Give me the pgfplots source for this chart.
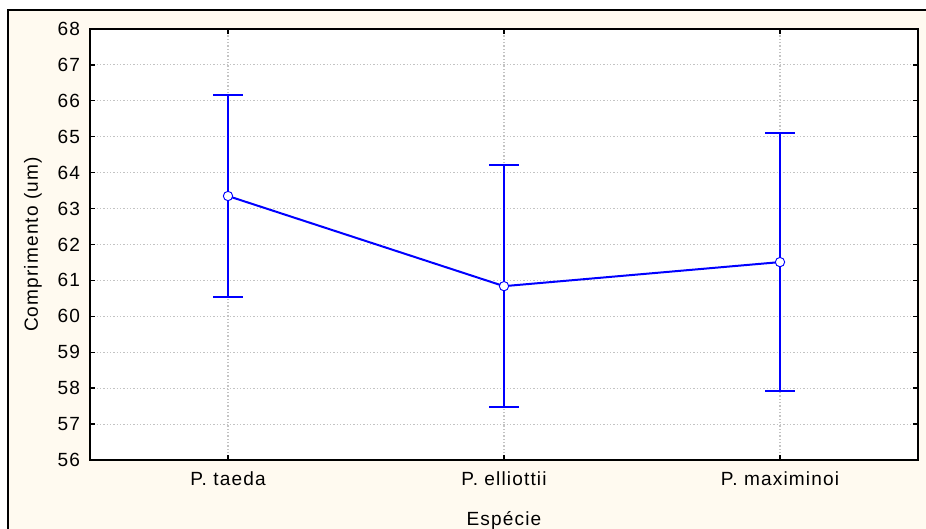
\documentclass[border=0pt]{standalone}
\usepackage{pgfplots}
\pgfplotsset{compat=1.18}
\usepackage{fontspec}
\setmainfont{Liberation Sans}[LetterSpace=6]
\definecolor{cream}{RGB}{255,250,240}
\definecolor{eb}{RGB}{0,0,255}
\definecolor{gridc}{RGB}{195,195,195}
\begin{document}
\begin{tikzpicture}[x=0.75pt,y=0.75pt]
\path[use as bounding box] (0,0) rectangle (926,529);
\begin{scope}
\clip (0,0) rectangle (926,529);
\fill[white] (0,0) rectangle (926,529);
\draw[fill=cream, line width=1.3pt] (8,-10) rectangle (940,519);
\end{scope}
\begin{axis}[
  at={(67.5pt,51.75pt)}, anchor=south west,
  scale only axis, width=621pt, height=323.25pt,
  xmin=-0.5, xmax=2.5, ymin=56, ymax=68,
  xtick={0,1,2}, xticklabels={P. taeda, P. elliottii, P. maximinoi},
  ytick={56,57,...,68},
  tick align=inside,
  major tick length=4pt,
  grid=major,
  grid style={dash pattern=on 1pt off 1.5pt, gridc, line width=0.8pt},
  axis line style={line width=1.4pt},
  tick style={black, line width=1pt},
  axis background/.style={fill=white},
  font=\fontsize{14.3}{16}\selectfont,
  /pgf/number format/assume math mode=true,
  xticklabel style={yshift=-5.5pt},
  yticklabel style={xshift=-4pt},
  xlabel={Espécie},
  ylabel={Comprimento (um)},
  xlabel style={at={(axis description cs:0.5,0)}, anchor=center, yshift=-45pt},
  ylabel style={at={(axis description cs:0,0.5)}, anchor=center, yshift=42.75pt},
]
\addplot[eb, line width=1.5pt, mark=*, mark size=3.5pt,
  mark options={fill=white, draw=eb, line width=0.7pt},
  error bars/.cd, y dir=both, y explicit,
  error bar style={line width=1.5pt, eb},
  error mark options={rotate=90, mark size=10.9pt, line width=1.5pt, eb}]
  coordinates {
    (0,63.35) +- (0,2.80)
    (1,60.84) +- (0,3.37)
    (2,61.51) +- (0,3.59)
  };
\end{axis}
\end{tikzpicture}
\end{document}
